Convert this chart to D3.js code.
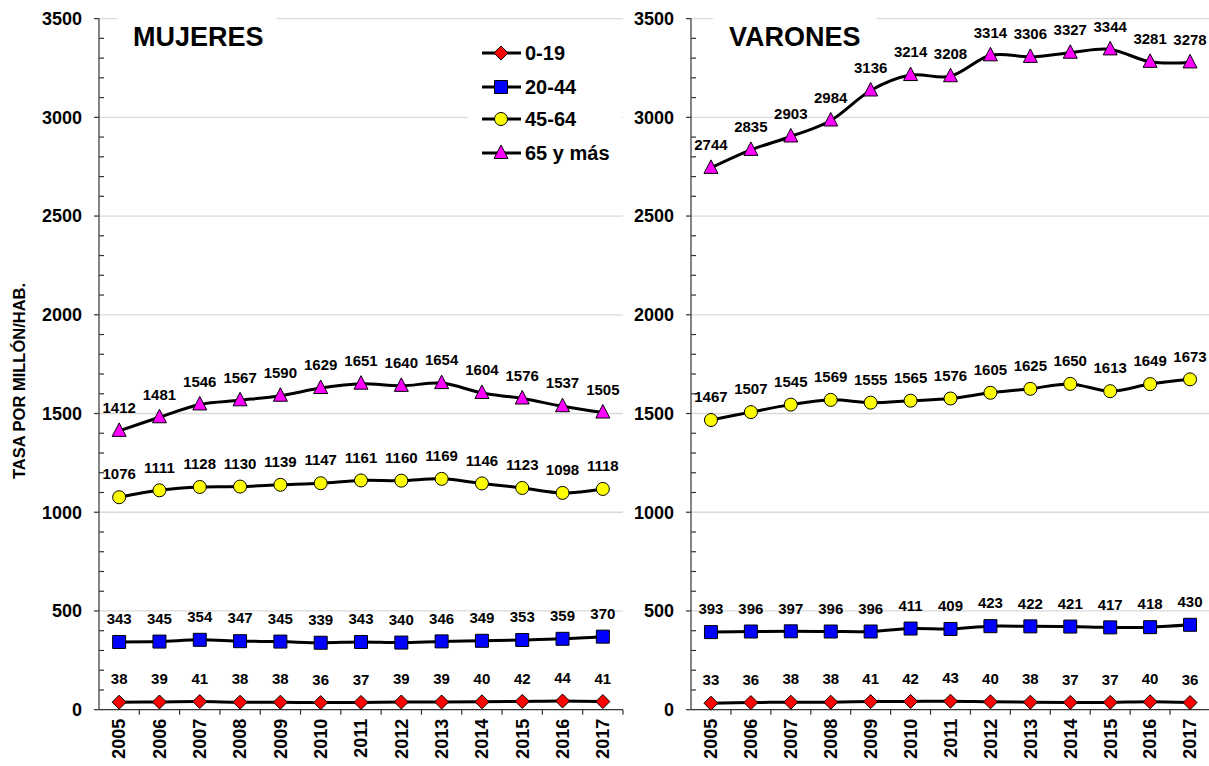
<!DOCTYPE html>
<html>
<head>
<meta charset="utf-8">
<script src="https://cdn.jsdelivr.net/npm/d3@7"></script>
<style>
    body { margin: 0; background: #ffffff; }
    svg text { font-family: "Liberation Sans", Arial, sans-serif; font-weight: bold; fill: #000; }
</style>
</head>
<body>
<div id="chart"></div>
<script>
// Data
const years = ['2005', '2006', '2007', '2008', '2009', '2010', '2011', '2012', '2013', '2014', '2015', '2016', '2017'];
const groups = ['0-19', '20-44', '45-64', '65 y más'];
const yTicks = [0, 500, 1000, 1500, 2000, 2500, 3000, 3500];

const mujeres_0_19 = [38, 39, 41, 38, 38, 36, 37, 39, 39, 40, 42, 44, 41];
const mujeres_20_44 = [343, 345, 354, 347, 345, 339, 343, 340, 346, 349, 353, 359, 370];
const mujeres_45_64 = [1076, 1111, 1128, 1130, 1139, 1147, 1161, 1160, 1169, 1146, 1123, 1098, 1118];
const mujeres_65 = [1412, 1481, 1546, 1567, 1590, 1629, 1651, 1640, 1654, 1604, 1576, 1537, 1505];

const varones_0_19 = [33, 36, 38, 38, 41, 42, 43, 40, 38, 37, 37, 40, 36];
const varones_20_44 = [393, 396, 397, 396, 396, 411, 409, 423, 422, 421, 417, 418, 430];
const varones_45_64 = [1467, 1507, 1545, 1569, 1555, 1565, 1576, 1605, 1625, 1650, 1613, 1649, 1673];
const varones_65 = [2744, 2835, 2903, 2984, 3136, 3214, 3208, 3314, 3306, 3327, 3344, 3281, 3278];

const width = 1209;
const height = 766;
const yTop = 18.6;
const yBottom = 709.7;

// marker shapes per group
const markerStyle = [
    { fill: '#ff0000', shape: 'diamond' },
    { fill: '#0000ff', shape: 'square' },
    { fill: '#ffff00', shape: 'circle' },
    { fill: '#ff00ff', shape: 'triangle' }
];

function markerPath(shape) {
    if (shape === 'diamond') return 'M0,-7L7,0L0,7L-7,0Z';
    if (shape === 'square') return 'M-6.5,-6.5H6.5V6.5H-6.5Z';
    if (shape === 'triangle') return 'M0,-8L7,5.5H-7Z';
    return d3.arc()({ innerRadius: 0, outerRadius: 6.5, startAngle: 0, endAngle: 2 * Math.PI });
}

const svg = d3.select('#chart')
    .append('svg')
    .attr('width', width)
    .attr('height', height);

const y = d3.scaleLinear().domain([0, 3500]).range([yBottom, yTop]);

function drawPanel(opts) {
    const x = d3.scaleBand().domain(years).range([opts.x0, opts.x1]).padding(0);
    const cx = d => x(d) + x.bandwidth() / 2;
    const g = svg.append('g');

    // Gridlines
    g.selectAll('.grid')
        .data(yTicks.filter(t => t > 0))
        .enter()
        .append('line')
        .attr('x1', opts.x0)
        .attr('x2', opts.x1)
        .attr('y1', d => y(d))
        .attr('y2', d => y(d))
        .attr('stroke', '#d9d9d9')
        .attr('stroke-width', 1.3);

    // Title box + title
    g.append('rect')
        .attr('x', opts.titleBox[0])
        .attr('y', 8)
        .attr('width', opts.titleBox[1] - opts.titleBox[0])
        .attr('height', 50)
        .attr('fill', '#fff');
    g.append('text')
        .attr('x', opts.titleX)
        .attr('y', 46)
        .style('font-size', '27px')
        .text(opts.title);

    // Y axis
    g.append('line')
        .attr('x1', opts.x0).attr('x2', opts.x0)
        .attr('y1', yTop).attr('y2', yBottom)
        .attr('stroke', '#333').attr('stroke-width', 1.2);
    g.selectAll('.minor')
        .data(d3.range(0, 3501, 100).filter(v => v % 500 !== 0))
        .enter()
        .append('line')
        .attr('x1', opts.x0).attr('x2', opts.x0 + 5)
        .attr('y1', d => y(d)).attr('y2', d => y(d))
        .attr('stroke', '#333').attr('stroke-width', 1.2);
    g.selectAll('.major')
        .data(yTicks)
        .enter()
        .append('line')
        .attr('x1', opts.x0 - 5).attr('x2', opts.x0)
        .attr('y1', d => y(d)).attr('y2', d => y(d))
        .attr('stroke', '#333').attr('stroke-width', 1.2);
    g.selectAll('.ylab')
        .data(yTicks)
        .enter()
        .append('text')
        .attr('x', opts.x0 - 17)
        .attr('y', d => y(d))
        .attr('dy', '0.35em')
        .attr('text-anchor', 'end')
        .style('font-size', '18px')
        .text(d => d);

    // X axis
    g.append('line')
        .attr('x1', opts.x0).attr('x2', opts.x1)
        .attr('y1', yBottom).attr('y2', yBottom)
        .attr('stroke', '#333').attr('stroke-width', 1.2);
    g.selectAll('.xtick')
        .data(years.slice(1).concat(['end']))
        .enter()
        .append('line')
        .attr('x1', d => d === 'end' ? opts.x1 : x(d))
        .attr('x2', d => d === 'end' ? opts.x1 : x(d))
        .attr('y1', yBottom).attr('y2', yBottom + 5)
        .attr('stroke', '#333').attr('stroke-width', 1.2);
    g.selectAll('.xlab')
        .data(years)
        .enter()
        .append('text')
        .attr('transform', d => `translate(${cx(d)},${yBottom + 9}) rotate(-90)`)
        .attr('dy', '0.35em')
        .attr('text-anchor', 'end')
        .style('font-size', '18px')
        .text(d => d);

    // Series
    const line = d3.line()
        .x((d, i) => cx(years[i]))
        .y(d => y(d))
        .curve(d3.curveCardinal.tension(0));

    opts.series.forEach((values, si) => {
        g.append('path')
            .attr('d', line(values))
            .attr('fill', 'none')
            .attr('stroke', '#000')
            .attr('stroke-width', 3);

        g.selectAll('.m' + si)
            .data(values)
            .enter()
            .append('path')
            .attr('d', markerPath(markerStyle[si].shape))
            .attr('transform', (d, i) => `translate(${cx(years[i])},${y(d)})`)
            .attr('fill', markerStyle[si].fill)
            .attr('stroke', '#000')
            .attr('stroke-width', 1);

        g.selectAll('.l' + si)
            .data(values)
            .enter()
            .append('text')
            .attr('x', (d, i) => cx(years[i]))
            .attr('y', d => y(d) - 23)
            .attr('dy', '0.35em')
            .attr('text-anchor', 'middle')
            .style('font-size', '15px')
            .text(d => d);
    });
}

drawPanel({
    x0: 99, x1: 623, title: 'MUJERES', titleX: 133, titleBox: [117, 277],
    series: [mujeres_0_19, mujeres_20_44, mujeres_45_64, mujeres_65]
});
drawPanel({
    x0: 691, x1: 1210, title: 'VARONES', titleX: 729, titleBox: [713, 877],
    series: [varones_0_19, varones_20_44, varones_45_64, varones_65]
});

// Y axis title
svg.append('text')
    .attr('transform', 'translate(19,381) rotate(-90)')
    .attr('dy', '0.35em')
    .attr('text-anchor', 'middle')
    .style('font-size', '16.5px')
    .text('TASA POR MILLÓN/HAB.');

// Legend
const legend = svg.append('g');
legend.append('rect')
    .attr('x', 468).attr('y', 28)
    .attr('width', 154).attr('height', 145)
    .attr('fill', '#fff');
const rowY = [53, 87, 119, 153];
groups.forEach((name, i) => {
    legend.append('line')
        .attr('x1', 482).attr('x2', 521)
        .attr('y1', rowY[i]).attr('y2', rowY[i])
        .attr('stroke', '#000').attr('stroke-width', 3);
    legend.append('path')
        .attr('d', markerPath(markerStyle[i].shape))
        .attr('transform', `translate(501,${rowY[i]})`)
        .attr('fill', markerStyle[i].fill)
        .attr('stroke', '#000')
        .attr('stroke-width', 1);
    legend.append('text')
        .attr('x', 525)
        .attr('y', rowY[i])
        .attr('dy', '0.35em')
        .style('font-size', '20px')
        .text(name);
});
</script>
</body>
</html>
